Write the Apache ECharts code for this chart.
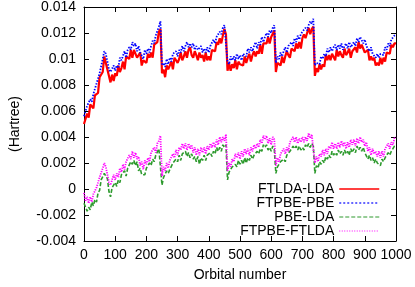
<!DOCTYPE html>
<html><head><meta charset="utf-8">
<script src="https://cdn.jsdelivr.net/npm/echarts@6/dist/echarts.min.js"></script>
<style>html,body{margin:0;padding:0;background:#fff}#c{width:415px;height:287px}</style>
</head><body><div id="c"></div>
<script>
const orbitals = [
0,5,10,15,20,25,30,35,40,45,50,55,60,65,70,75,80,85,90,95,
100,105,110,115,120,125,130,135,140,145,150,155,160,165,170,175,180,185,190,195,
200,205,210,215,220,225,230,235,240,245,250,255,260,265,270,275,280,285,290,295,
300,305,310,315,320,325,330,335,340,345,350,355,360,365,370,375,380,385,390,395,
400,405,410,415,420,425,430,435,440,445,450,455,460,465,470,475,480,485,490,495,
500,505,510,515,520,525,530,535,540,545,550,555,560,565,570,575,580,585,590,595,
600,605,610,615,620,625,630,635,640,645,650,655,660,665,670,675,680,685,690,695,
700,705,710,715,720,725,730,735,740,745,750,755,760,765,770,775,780,785,790,795,
800,805,810,815,820,825,830,835,840,845,850,855,860,865,870,875,880,885,890,895,
900,905,910,915,920,925,930,935,940,945,950,955,960,965,970,975,980,985,990,995,
1000];

const ftldaLda = [
0.0050,0.0050,0.0058,0.0055,0.0065,0.0064,0.0062,0.0072,0.0073,0.0074,
0.0086,0.0086,0.0090,0.0102,0.0101,0.0092,0.0092,0.0082,0.0088,0.0083,
0.0089,0.0087,0.0095,0.0090,0.0093,0.0098,0.0092,0.0102,0.0101,0.0100,
0.0107,0.0101,0.0107,0.0108,0.0101,0.0102,0.0105,0.0095,0.0099,0.0099,
0.0097,0.0104,0.0101,0.0105,0.0101,0.0111,0.0111,0.0113,0.0121,0.0123,
0.0089,0.0092,0.0086,0.0095,0.0092,0.0092,0.0098,0.0092,0.0101,0.0099,
0.0097,0.0100,0.0105,0.0099,0.0102,0.0106,0.0101,0.0107,0.0109,0.0103,
0.0101,0.0106,0.0103,0.0099,0.0105,0.0101,0.0103,0.0098,0.0105,0.0099,
0.0102,0.0099,0.0107,0.0108,0.0106,0.0113,0.0111,0.0116,0.0112,0.0118,
0.0123,0.0119,0.0091,0.0097,0.0091,0.0096,0.0093,0.0099,0.0092,0.0098,
0.0096,0.0096,0.0095,0.0102,0.0097,0.0101,0.0104,0.0098,0.0103,0.0106,
0.0102,0.0106,0.0104,0.0111,0.0104,0.0112,0.0111,0.0112,0.0117,0.0112,
0.0117,0.0116,0.0122,0.0090,0.0097,0.0096,0.0095,0.0102,0.0097,0.0102,
0.0106,0.0103,0.0101,0.0108,0.0107,0.0106,0.0112,0.0108,0.0113,0.0108,
0.0116,0.0119,0.0116,0.0117,0.0124,0.0119,0.0123,0.0125,0.0087,0.0093,
0.0090,0.0096,0.0092,0.0096,0.0094,0.0103,0.0099,0.0103,0.0099,0.0104,
0.0103,0.0099,0.0107,0.0102,0.0106,0.0103,0.0101,0.0108,0.0103,0.0105,
0.0108,0.0101,0.0106,0.0105,0.0109,0.0105,0.0113,0.0108,0.0111,0.0111,
0.0105,0.0106,0.0107,0.0099,0.0102,0.0099,0.0101,0.0095,0.0097,0.0095,
0.0101,0.0096,0.0101,0.0098,0.0105,0.0105,0.0104,0.0111,0.0109,0.0112,
0.0112];

const ftpbePbe = [
0.0056,0.0056,0.0064,0.0063,0.0069,0.0067,0.0073,0.0073,0.0081,0.0081,
0.0089,0.0090,0.0100,0.0106,0.0104,0.0103,0.0092,0.0090,0.0089,0.0095,
0.0091,0.0095,0.0093,0.0101,0.0099,0.0099,0.0106,0.0101,0.0107,0.0109,
0.0107,0.0113,0.0110,0.0112,0.0106,0.0110,0.0105,0.0106,0.0100,0.0107,
0.0104,0.0108,0.0105,0.0110,0.0114,0.0112,0.0118,0.0118,0.0125,0.0129,
0.0095,0.0097,0.0094,0.0100,0.0096,0.0101,0.0098,0.0104,0.0103,0.0106,
0.0102,0.0107,0.0105,0.0110,0.0106,0.0110,0.0113,0.0109,0.0112,0.0109,
0.0112,0.0107,0.0110,0.0107,0.0108,0.0110,0.0105,0.0108,0.0105,0.0109,
0.0105,0.0110,0.0109,0.0115,0.0112,0.0117,0.0116,0.0121,0.0119,0.0124,
0.0126,0.0125,0.0098,0.0096,0.0102,0.0099,0.0102,0.0099,0.0104,0.0100,
0.0103,0.0099,0.0104,0.0105,0.0102,0.0108,0.0105,0.0109,0.0106,0.0110,
0.0113,0.0108,0.0113,0.0111,0.0117,0.0113,0.0117,0.0120,0.0117,0.0122,
0.0120,0.0124,0.0126,0.0097,0.0102,0.0100,0.0105,0.0102,0.0106,0.0109,
0.0105,0.0110,0.0109,0.0113,0.0110,0.0116,0.0113,0.0118,0.0115,0.0119,
0.0121,0.0120,0.0124,0.0122,0.0126,0.0129,0.0127,0.0131,0.0095,0.0097,
0.0098,0.0096,0.0102,0.0100,0.0104,0.0102,0.0108,0.0105,0.0109,0.0106,
0.0109,0.0111,0.0107,0.0111,0.0108,0.0112,0.0107,0.0110,0.0112,0.0108,
0.0113,0.0109,0.0111,0.0113,0.0110,0.0116,0.0113,0.0117,0.0116,0.0112,
0.0115,0.0110,0.0111,0.0106,0.0109,0.0104,0.0105,0.0101,0.0104,0.0101,
0.0104,0.0105,0.0103,0.0109,0.0107,0.0112,0.0110,0.0115,0.0114,0.0118,
0.0119];

const pbeLda = [
-0.0011,-0.0011,-0.0017,-0.0014,-0.0016,-0.0010,-0.0013,-0.0008,-0.0010,-0.0003,
-0.0001,0.0007,0.0007,0.0012,0.0010,0.0008,-0.0002,-0.0006,0.0001,0.0001,
0.0005,0.0002,0.0007,0.0005,0.0011,0.0010,0.0014,0.0010,0.0016,0.0015,
0.0021,0.0019,0.0022,0.0018,0.0021,0.0014,0.0016,0.0011,0.0012,0.0011,
0.0016,0.0015,0.0020,0.0018,0.0023,0.0021,0.0026,0.0026,0.0031,0.0032,
0.0003,0.0009,0.0008,0.0014,0.0012,0.0015,0.0014,0.0020,0.0019,0.0023,
0.0021,0.0026,0.0022,0.0027,0.0026,0.0029,0.0025,0.0028,0.0024,0.0027,
0.0023,0.0025,0.0021,0.0025,0.0019,0.0024,0.0022,0.0026,0.0022,0.0026,
0.0025,0.0028,0.0025,0.0029,0.0027,0.0032,0.0029,0.0032,0.0029,0.0034,
0.0032,0.0034,0.0007,0.0013,0.0012,0.0017,0.0016,0.0019,0.0017,0.0022,
0.0019,0.0022,0.0019,0.0024,0.0020,0.0024,0.0022,0.0026,0.0023,0.0026,
0.0025,0.0029,0.0027,0.0031,0.0029,0.0034,0.0032,0.0034,0.0030,0.0032,
0.0029,0.0033,0.0030,0.0012,0.0017,0.0016,0.0021,0.0020,0.0023,0.0021,
0.0026,0.0025,0.0029,0.0028,0.0033,0.0031,0.0033,0.0030,0.0033,0.0030,
0.0032,0.0030,0.0034,0.0032,0.0035,0.0032,0.0035,0.0033,0.0012,0.0018,
0.0016,0.0021,0.0019,0.0022,0.0020,0.0025,0.0023,0.0026,0.0024,0.0029,
0.0026,0.0028,0.0026,0.0030,0.0027,0.0029,0.0026,0.0030,0.0027,0.0029,
0.0026,0.0031,0.0028,0.0031,0.0028,0.0033,0.0030,0.0032,0.0029,0.0032,
0.0028,0.0028,0.0023,0.0026,0.0022,0.0024,0.0020,0.0023,0.0020,0.0021,
0.0018,0.0023,0.0021,0.0024,0.0023,0.0028,0.0026,0.0029,0.0028,0.0033,
0.0034];

const ftpbeFtlda = [
-0.0003,-0.0009,-0.0006,-0.0011,-0.0006,-0.0010,-0.0004,-0.0005,0.0001,0.0001,
0.0009,0.0008,0.0016,0.0020,0.0017,0.0016,0.0005,0.0003,0.0003,0.0011,
0.0007,0.0012,0.0009,0.0016,0.0013,0.0019,0.0015,0.0021,0.0020,0.0026,
0.0023,0.0029,0.0024,0.0028,0.0023,0.0025,0.0018,0.0021,0.0015,0.0022,
0.0019,0.0024,0.0021,0.0028,0.0027,0.0032,0.0028,0.0035,0.0037,0.0041,
0.0010,0.0017,0.0014,0.0020,0.0016,0.0022,0.0021,0.0027,0.0024,0.0030,
0.0026,0.0032,0.0030,0.0035,0.0031,0.0035,0.0030,0.0035,0.0031,0.0034,
0.0028,0.0032,0.0026,0.0031,0.0026,0.0032,0.0028,0.0032,0.0027,0.0033,
0.0030,0.0035,0.0032,0.0036,0.0032,0.0038,0.0034,0.0040,0.0036,0.0040,
0.0037,0.0042,0.0014,0.0020,0.0017,0.0023,0.0021,0.0027,0.0024,0.0028,
0.0023,0.0029,0.0025,0.0031,0.0027,0.0031,0.0026,0.0032,0.0029,0.0034,
0.0031,0.0035,0.0032,0.0038,0.0035,0.0041,0.0038,0.0041,0.0035,0.0039,
0.0034,0.0040,0.0038,0.0018,0.0024,0.0021,0.0027,0.0026,0.0031,0.0027,
0.0032,0.0029,0.0036,0.0035,0.0040,0.0036,0.0040,0.0035,0.0039,0.0036,
0.0040,0.0036,0.0040,0.0037,0.0043,0.0039,0.0042,0.0041,0.0020,0.0025,
0.0021,0.0027,0.0025,0.0030,0.0026,0.0031,0.0027,0.0033,0.0031,0.0036,
0.0031,0.0035,0.0031,0.0036,0.0032,0.0037,0.0033,0.0036,0.0031,0.0036,
0.0032,0.0038,0.0034,0.0038,0.0033,0.0039,0.0035,0.0040,0.0036,0.0038,
0.0033,0.0036,0.0029,0.0032,0.0026,0.0031,0.0027,0.0029,0.0025,0.0029,
0.0024,0.0029,0.0025,0.0031,0.0030,0.0035,0.0031,0.0036,0.0034,0.0039,
0.0040];

const seriesNames = ['FTLDA-LDA', 'FTPBE-PBE', 'PBE-LDA', 'FTPBE-FTLDA'];
const seriesValues = [ftldaLda, ftpbePbe, pbeLda, ftpbeFtlda];
const xAxisTitle = 'Orbital number';
const yAxisTitle = '(Hartree)';

const FONT = '"Liberation Sans", Arial, Helvetica, sans-serif';
const styles = [
  { color: '#ff0000', type: 'solid', width: 2.2, legendType: 'solid' },
  { color: '#0000ff', type: [1.5, 1.5], width: 1.8, legendType: [2, 2] },
  { color: '#2e9a2e', type: [4, 2], width: 1.6, legendType: [4, 2] },
  { color: '#ff00ff', type: [1.2, 1.2], width: 1.8, legendType: [1, 1.5] }
];

const chart = echarts.init(document.getElementById('c'), null, { renderer: 'canvas' });
const axisCommon = {
  axisLine: { show: true, onZero: false, lineStyle: { color: '#000', width: 1 } },
  axisTick: { show: true, inside: true, length: 5, lineStyle: { color: '#000', width: 1 } },
  splitLine: { show: false }
};
const yFmt = v => String(+v.toFixed(3));
const xFmt = v => String(v);

chart.setOption({
  animation: false,
  backgroundColor: '#fff',
  grid: { left: 80, right: 19, top: 5, bottom: 45, containLabel: false },
  legend: {
    orient: 'vertical', right: 35, top: 182, align: 'right',
    itemWidth: 40, itemHeight: 13, itemGap: 0, padding: 0,
    itemStyle: { color: 'rgba(0,0,0,0)', borderWidth: 0, opacity: 0 },
    textStyle: { fontSize: 14, color: '#000', fontFamily: FONT, lineHeight: 13.4 },
    data: seriesNames.map((n, k) => ({
      name: n,
      lineStyle: { color: styles[k].color, type: styles[k].legendType, width: k === 0 ? 1.5 : 1.2 }
    }))
  },
  xAxis: [
    Object.assign({
      type: 'value', min: 0, max: 1000, interval: 100, position: 'bottom',
      name: xAxisTitle, nameLocation: 'middle', nameGap: 27,
      nameTextStyle: { fontSize: 14, color: '#000', fontFamily: FONT },
      axisLabel: { fontSize: 14, color: '#000', fontFamily: FONT, margin: 7, formatter: xFmt }
    }, axisCommon),
    Object.assign({
      type: 'value', min: 0, max: 1000, interval: 100, position: 'top',
      axisLabel: { show: false }
    }, axisCommon)
  ],
  yAxis: [
    Object.assign({
      type: 'value', min: -0.004, max: 0.014, interval: 0.002, position: 'left',
      name: yAxisTitle, nameLocation: 'middle', nameGap: 62, nameRotate: 90,
      nameTextStyle: { fontSize: 14, color: '#000', fontFamily: FONT },
      axisLabel: { fontSize: 14, color: '#000', fontFamily: FONT, margin: 8, formatter: yFmt }
    }, axisCommon),
    Object.assign({
      type: 'value', min: -0.004, max: 0.014, interval: 0.002, position: 'right',
      axisLabel: { show: false }
    }, axisCommon)
  ],
  series: seriesNames.map((name, k) => ({
    name: name,
    type: 'line',
    xAxisIndex: 0, yAxisIndex: 0,
    symbol: 'none', showSymbol: false,
    data: orbitals.map((x, i) => [x, seriesValues[k][i]]),
    lineStyle: { color: styles[k].color, type: styles[k].type, width: styles[k].width },
    itemStyle: { color: styles[k].color },
    z: 2 + k
  }))
});
</script>
</body></html>
